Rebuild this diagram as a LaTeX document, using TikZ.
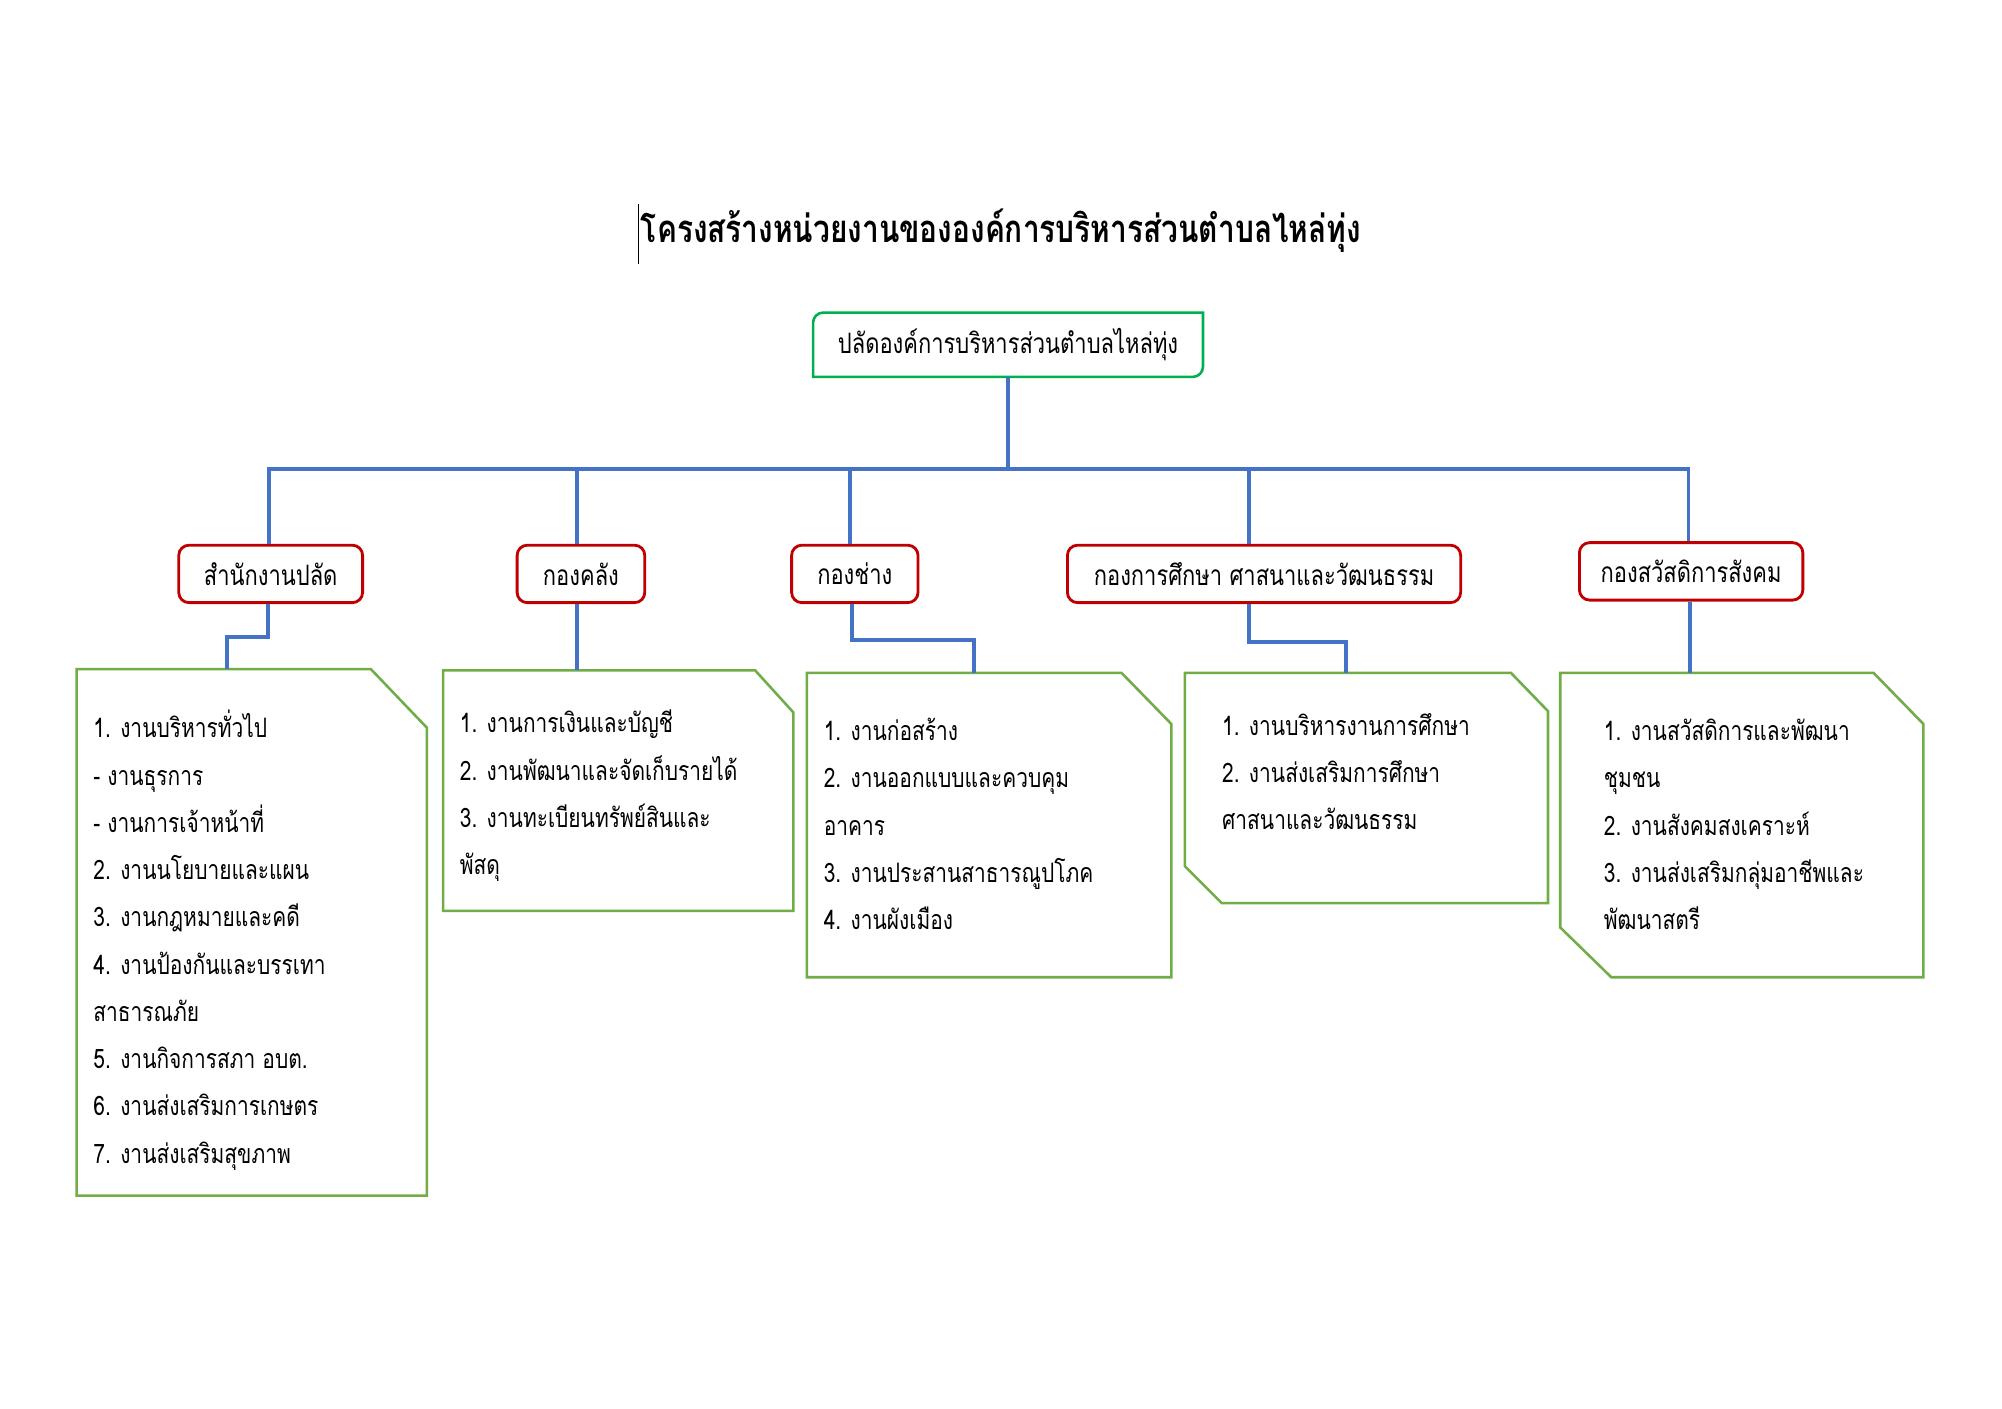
\documentclass[tikz,border=0pt]{standalone}
\usepackage{fontspec}
\newfontfamily\thaifont[Script=Thai,FakeStretch=0.78]{Loma}
\definecolor{linkblue}{HTML}{4472C4}
\definecolor{unitred}{HTML}{C00000}
\definecolor{taskgreen}{HTML}{70AD47}
\definecolor{headgreen}{HTML}{00B050}
\begin{document}
\begin{tikzpicture}[x=1pt, y=-1pt,
    link/.style={draw=linkblue, line width=3pt},
    unit/.style={draw=unitred, line width=2.2pt, rounded corners=8pt, minimum height=45pt, inner sep=0pt, font=\thaifont\fontsize{22}{24}\selectfont},
    task/.style={anchor=north west, inner sep=0pt},
    taskline/.style={draw=taskgreen, line width=2pt},
    tasktext/.style={anchor=base west, align=left, inner sep=0pt, font=\thaifont\fontsize{21}{37}\selectfont}]
    \useasboundingbox[fill=white] (0,0) rectangle (1568,1103);
    \node[font=\thaifont\bfseries\fontsize{30}{34}\selectfont] (title) at (784,181) {โครงสร้างหน่วยงานขององค์การบริหารส่วนตำบลไหล่ทุ่ง};
    \draw[line width=1pt] (500,160) -- (500,207);
    \node[minimum width=305pt, minimum height=50pt, inner sep=0pt, font=\thaifont\fontsize{22}{24}\selectfont] (head) at (789.5,270) {ปลัดองค์การบริหารส่วนตำบลไหล่ทุ่ง};
    \draw[draw=headgreen, line width=2pt] (head.north east) -- ([yshift=8pt]head.south east) arc[start angle=0, end angle=-90, radius=8pt] -- (head.south west) -- ([yshift=-8pt]head.north west) arc[start angle=180, end angle=90, radius=8pt] -- cycle;
    \node[unit, minimum width=144pt] (u1) at (212,449.5) {สำนักงานปลัด};
    \node[unit, minimum width=100pt] (u2) at (455,449.5) {กองคลัง};
    \node[unit, minimum width=99pt] (u3) at (669.5,449.5) {กองช่าง};
    \node[unit, minimum width=308pt] (u4) at (990,449.5) {กองการศึกษา ศาสนาและวัฒนธรรม};
    \node[unit, minimum width=175pt] (u5) at (1324.5,447.5) {กองสวัสดิการสังคม};
    \coordinate (bus) at (789.5,367);
    \draw[link] (head.south) -- (bus);
    \draw[link] ([xshift=-1pt]u1.north) |- (bus);
    \draw[link] ([xshift=-2pt]u5.north) |- (bus);
    \draw[link] ([xshift=-3pt]u2.north) -- ([xshift=-3pt]u2.north |- bus);
    \draw[link] ([xshift=-4pt]u3.north) -- ([xshift=-4pt]u3.north |- bus);
    \draw[link] ([xshift=-12pt]u4.north) -- ([xshift=-12pt]u4.north |- bus);
    \node[task, minimum width=274pt, minimum height=412pt] (g1) at (60,524) {};
    \node[task, minimum width=274pt, minimum height=188pt] (g2) at (347,525) {};
    \node[task, minimum width=285pt, minimum height=238pt] (g3) at (632,527) {};
    \node[task, minimum width=284pt, minimum height=180pt] (g4) at (928,527) {};
    \node[task, minimum width=284pt, minimum height=238pt] (g5) at (1222,527) {};
    \draw[taskline] (g1.north west) -- ([xshift=-44pt]g1.north east) -- ([yshift=-46pt]g1.north east) -- (g1.south east) -- (g1.south west) -- cycle;
    \draw[taskline] (g2.north west) -- ([xshift=-30pt]g2.north east) -- ([yshift=-33pt]g2.north east) -- (g2.south east) -- (g2.south west) -- cycle;
    \draw[taskline] (g3.north west) -- ([xshift=-39pt]g3.north east) -- ([yshift=-40pt]g3.north east) -- (g3.south east) -- (g3.south west) -- cycle;
    \draw[taskline] (g4.north west) -- ([xshift=-29pt]g4.north east) -- ([yshift=-30pt]g4.north east) -- (g4.south east) -- ([xshift=29pt]g4.south west) -- ([yshift=29pt]g4.south west) -- cycle;
    \draw[taskline] (g5.north west) -- ([xshift=-39pt]g5.north east) -- ([yshift=-40pt]g5.north east) -- (g5.south east) -- ([xshift=40pt]g5.south west) -- ([yshift=39pt]g5.south west) -- cycle;
    \draw[link] ([xshift=-2pt]u1.south) -- ++(0,26) -| ([xshift=118pt]g1.north west);
    \draw[link] ([xshift=-3pt]u2.south) -- ([xshift=-3pt]u2.south |- g2.north);
    \draw[link] ([xshift=-2pt]u3.south) -- ++(0,28) -| ([xshift=131pt]g3.north west);
    \draw[link] ([xshift=-12pt]u4.south) -- ++(0,30) -| ([xshift=126pt]g4.north west);
    \draw[link] ([xshift=-1pt]u5.south) -- ([xshift=-1pt]u5.south |- g5.north);
    \node[tasktext] (t1) at (73,911) {1. งานบริหารทั่วไป\\- งานธุรการ\\- งานการเจ้าหน้าที่\\2. งานนโยบายและแผน\\3. งานกฎหมายและคดี\\4. งานป้องกันและบรรเทา\\สาธารณภัย\\5. งานกิจการสภา อบต.\\6. งานส่งเสริมการเกษตร\\7. งานส่งเสริมสุขภาพ};
    \node[tasktext] (t2) at (360,685) {1. งานการเงินและบัญชี\\2. งานพัฒนาและจัดเก็บรายได้\\3. งานทะเบียนทรัพย์สินและ\\พัสดุ};
    \node[tasktext] (t3) at (645,728) {1. งานก่อสร้าง\\2. งานออกแบบและควบคุม\\อาคาร\\3. งานประสานสาธารณูปโภค\\4. งานผังเมือง};
    \node[tasktext] (t4) at (957,650) {1. งานบริหารงานการศึกษา\\2. งานส่งเสริมการศึกษา\\ศาสนาและวัฒนธรรม};
    \node[tasktext] (t5) at (1256,728) {1. งานสวัสดิการและพัฒนา\\ชุมชน\\2. งานสังคมสงเคราะห์\\3. งานส่งเสริมกลุ่มอาชีพและ\\พัฒนาสตรี};
\end{tikzpicture}
\end{document}
